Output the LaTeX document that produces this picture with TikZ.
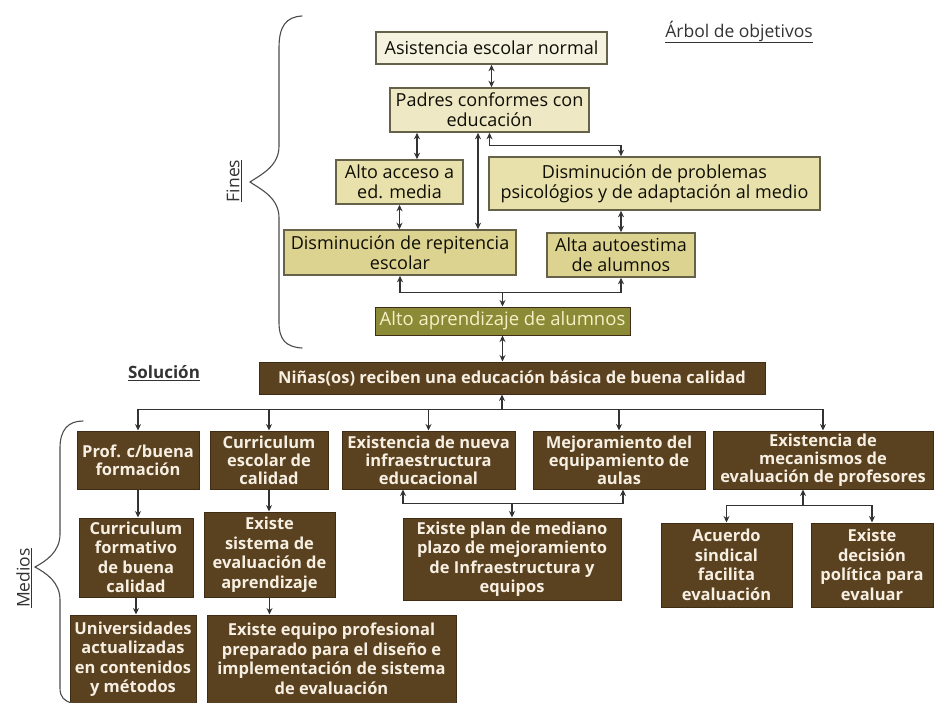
\documentclass[tikz,border=0pt]{standalone}
\usepackage{fontspec}
\setmainfont{Open Sans}
\usetikzlibrary{arrows.meta,calc}

\definecolor{asisfill}{HTML}{F6F2E0}
\definecolor{padrefill}{HTML}{EFE8C4}
\definecolor{midfill}{HTML}{E9E1AB}
\definecolor{lowfill}{HTML}{DDD391}
\definecolor{creamline}{HTML}{66624A}
\definecolor{olive}{HTML}{8B8A36}
\definecolor{olivetext}{HTML}{F4F1C6}
\definecolor{brownbox}{HTML}{5A4120}
\definecolor{brownline}{HTML}{3E2C14}
\definecolor{browntext}{HTML}{F6EFE2}
\definecolor{wire}{HTML}{333333}
\definecolor{labeltext}{HTML}{333333}

\tikzset{
  objbox/.style={draw=creamline, line width=1.6pt, inner sep=0pt, align=center,
    text=black!90!olive, font=\fontsize{18}{20}\selectfont},
  endbox/.style={draw=brownline, line width=1pt, fill=olive, inner sep=0pt,
    align=center, text=olivetext, font=\fontsize{18.5}{20}\selectfont},
  meanbox/.style={draw=brownline, line width=1pt, fill=brownbox, inner sep=0pt,
    align=center, text=browntext, font=\fontsize{16.5}{18}\selectfont\bfseries},
  tallbox/.style={meanbox, font=\fontsize{16.5}{19.5}\selectfont\bfseries},
  wired/.style={draw=wire, line width=1.4pt,
    >={Stealth[length=6.5pt,width=6pt]}},
  bracket/.style={draw=black!70, line width=1.1pt, line cap=round},
  heading/.style={text=labeltext, inner sep=0pt, font=\fontsize{17.5}{19}\selectfont}
}

\begin{document}
\begin{tikzpicture}[x=1pt, y=-1pt]
\useasboundingbox (0,0) rectangle (934,702);
\fill[white] (0,0) rectangle (934,702);

% ---- objective tree (ends) ----
\node[objbox, fill=asisfill, minimum width=231pt, minimum height=32pt] (asis) at (491.5,48) {Asistencia escolar normal};
\node[objbox, fill=padrefill, minimum width=199pt, minimum height=44pt] (padres) at (489.5,110) {Padres conformes con\\educación};
\node[objbox, fill=midfill, minimum width=127pt, minimum height=44pt] (acceso) at (399.5,182) {Alto acceso a\\ed. media};
\node[objbox, fill=midfill, minimum width=331pt, minimum height=53pt] (problemas) at (654.5,183.5) {Disminución de problemas\\psicológios y de adaptación al medio};
\node[objbox, fill=lowfill, minimum width=232pt, minimum height=45pt] (repit) at (400,252.5) {Disminución de repitencia\\escolar};
\node[objbox, fill=lowfill, minimum width=148pt, minimum height=44pt] (autoest) at (621,255) {Alta autoestima\\de alumnos};
\node[endbox, minimum width=255pt, minimum height=28pt] (aprend) at (502.5,321) {Alto aprendizaje de alumnos};

% ---- solution and means ----
\node[meanbox, minimum width=506pt, minimum height=32pt] (ninas) at (512,378) {Niñas(os) reciben una educación básica de buena calidad};

\node[meanbox, minimum width=122pt, minimum height=58pt] (prof) at (138,460) {Prof. c/buena\\formación};
\node[meanbox, minimum width=118pt, minimum height=58pt] (curesc) at (269,460) {Curriculum\\escolar de\\calidad};
\node[meanbox, minimum width=173pt, minimum height=58pt] (infra) at (428.5,460) {Existencia de nueva\\infraestructura\\educacional};
\node[meanbox, minimum width=172pt, minimum height=58pt] (mejora) at (619,460) {Mejoramiento del\\equipamiento de\\aulas};
\node[meanbox, minimum width=220pt, minimum height=58pt] (meca) at (823,460) {Existencia de\\mecanismos de\\evaluación de profesores};

\node[tallbox, minimum width=114pt, minimum height=79pt] (curform) at (136,557.5) {Curriculum\\formativo\\de buena\\calidad};
\node[tallbox, minimum width=131pt, minimum height=85pt] (sist) at (269.5,554.5) {Existe\\sistema de\\evaluación de\\aprendizaje};
\node[tallbox, minimum width=218pt, minimum height=82pt] (plan) at (512,559) {Existe plan de mediano\\plazo de mejoramiento\\de Infraestructura y\\equipos};
\node[tallbox, minimum width=131pt, minimum height=84pt] (acuerdo) at (726.5,565) {Acuerdo\\sindical\\facilita\\evaluación};
\node[tallbox, minimum width=122pt, minimum height=84pt] (decis) at (872,565) {Existe\\decisión\\política para\\evaluar};

\node[tallbox, minimum width=126pt, minimum height=88pt] (univ) at (133,659) {Universidades\\actualizadas\\en contenidos\\y métodos};
\node[tallbox, minimum width=249pt, minimum height=88pt] (equipo) at (331.5,659) {Existe equipo profesional\\preparado para el diseño e\\implementación de sistema\\de evaluación};

% ---- headings ----
\node[heading] (arbol) at (739,32) {\underline{Árbol de objetivos}};
\node[heading, font=\fontsize{17}{19}\selectfont\bfseries] (solucion) at (164,373) {\underline{Solución}};
\node[heading, rotate=90] (fines) at (234,181) {\underline{Fines}};
\node[heading, rotate=90] (medios) at (24,578) {\underline{Medios}};

% ---- braces ----
\draw[bracket] (302,16) .. controls (286,17) and (279,26) .. (279,48)
  -- (279,146) .. controls (279,166) and (262,174) .. (250,182)
  .. controls (262,190) and (279,198) .. (279,218)
  -- (279,322) .. controls (279,340) and (286,347) .. (302,348);
\draw[bracket] (83,421) .. controls (68,421) and (60,430) .. (60,448)
  -- (60,534) .. controls (60,552) and (46,561) .. (35,567)
  .. controls (46,573) and (60,582) .. (60,600)
  -- (60,688) .. controls (60,697) and (64,701) .. (72,703);

% ---- connectors among the ends ----
\draw[wired,<->] (asis.south) -- (asis.south |- padres.north);
\draw[wired,<->] ([xshift=17.5pt]acceso.north) -- ([xshift=17.5pt]acceso.north |- padres.south);
\draw[wired,<->] ([xshift=78pt]repit.north) -- ([xshift=78pt]repit.north |- padres.south);
\coordinate (padbend) at ($(autoest.north |- problemas.north)+(0,-11)$);
\draw[wired,<->] (padres.south) |- (padbend) -- (autoest.north |- problemas.north);
\draw[wired,<->] (acceso.south) -- (acceso.south |- repit.north);
\draw[wired,<->] (problemas.south -| autoest.north) -- (autoest.north);
\coordinate (joinA) at ($(aprend.north)+(0,-14)$);
\draw[wired,<->] (repit.south) |- (joinA) -| (autoest.south);
\draw[wired,->] (joinA) -- (aprend.north);
\draw[wired,<->] (aprend.south) -- (aprend.south |- ninas.north);

% ---- connectors among the means ----
\coordinate (busN) at ($([xshift=-10pt]ninas.south)+(0,15)$);
\draw[wired,<-] ([xshift=-10pt]ninas.south) -- (busN);
\draw[wired,->] (busN) -| (prof.north);
\draw[wired,->] (busN) -| (curesc.north);
\draw[wired,->] (busN) -| (infra.north);
\draw[wired,->] (busN) -| (mejora.north);
\draw[wired,->] (busN) -| (meca.north);

\draw[wired,->] (prof.south) -- (prof.south |- curform.north);
\draw[wired,->] (curesc.south) -- (curesc.south |- sist.north);
\draw[wired,->] (curform.south) -- (curform.south |- univ.north);
\draw[wired,->] (sist.south) -- (sist.south |- equipo.north);

\coordinate (joinP) at ($(plan.north)+(0,-14)$);
\draw[wired,<->] ([xshift=-25.5pt]infra.south) |- (joinP) -| ([xshift=4pt]mejora.south);
\draw[wired,->] (joinP) -- (plan.north);

\coordinate (joinM) at ($([xshift=-20pt]meca.south)+(0,16)$);
\draw[wired,<-] ([xshift=-20pt]meca.south) -- (joinM);
\draw[wired,->] (joinM) -| (acuerdo.north);
\draw[wired,->] (joinM) -| (decis.north);
\end{tikzpicture}
\end{document}
